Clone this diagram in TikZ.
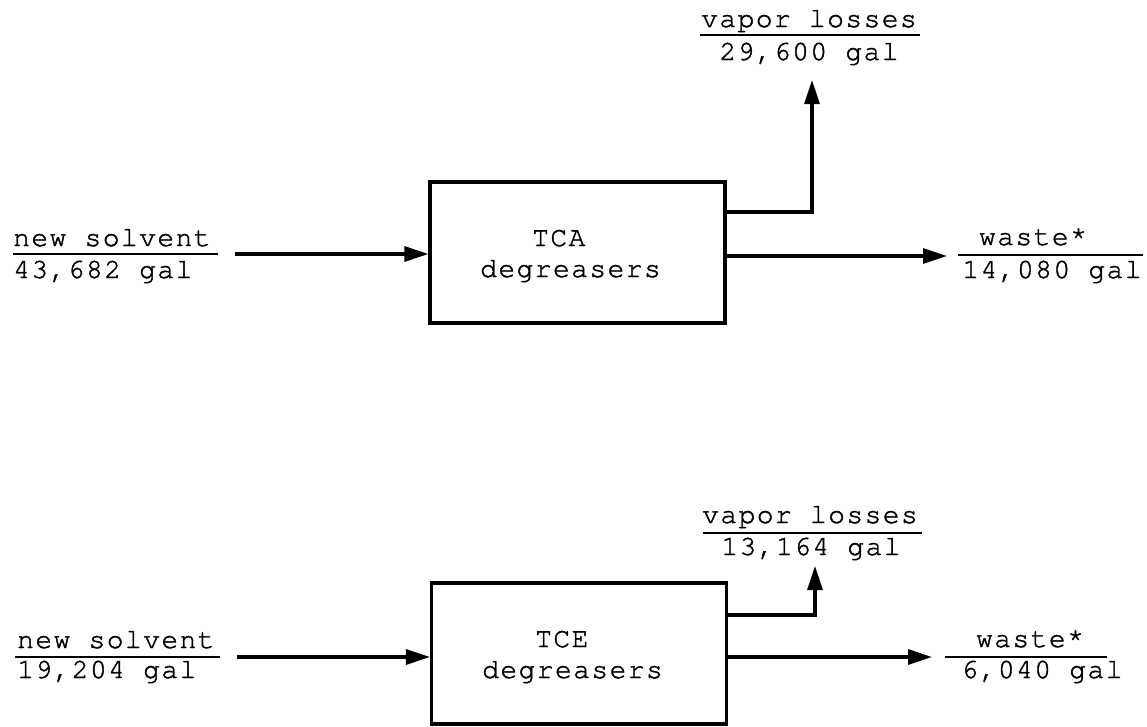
\documentclass[tikz,border=0pt]{standalone}
\usepackage{fontspec}
\usetikzlibrary{arrows.meta}
\newfontfamily\twfam{texgyrecursor-regular}[Extension=.otf, LetterSpace=5, FakeBold=1.5]
\newcommand\twfont{\fontsize{28}{30}\selectfont\twfam}
\tikzset{
  txt/.style={font=\twfont, inner sep=0pt, anchor=base west},
  ctxt/.style={font=\twfont, inner sep=0pt, anchor=base},
  unit/.style={draw, line width=3.2pt, minimum width=295pt, minimum height=141pt, inner sep=0pt},
  flow/.style={line width=3.2pt, -{Triangle[length=24pt,width=15pt]}},
  rule/.style={line width=2pt}
}
\begin{document}
\begin{tikzpicture}[x=1pt,y=-1pt]
\useasboundingbox (0,0) rectangle (1147,726);
% ---------- top (TCA) ----------
\node[unit] (box1) at (577.5,252.5) {};
\node[txt] (b1a) at (532,246) {TCA};
\node[txt] (b1b) at (480,277) {degreasers};
\node[txt] (ns1) at (13,246) {new solvent};
\node[txt] (nv1) at (13,278) {43,682 gal};
\draw[rule] (13,254) -- (218,254);
\node[ctxt] (vl1) at (809,27) {vapor losses};
\node[ctxt] (vv1) at (809,60) {29,600 gal};
\draw[rule] (700,35) -- (920,35);
\node[ctxt] (ws1) at (1033,245) {waste*};
\node[ctxt] (wv1) at (1052,278) {14,080 gal};
\draw[rule] (958,255) -- (1143,255);
\coordinate (in1) at (235,254);
\coordinate (out1) at (947,256);
\coordinate (vs1) at (725,212);
\coordinate (vt1) at (812,80);
\draw[flow] (in1) -- (in1 -| box1.west);
\draw[flow] (out1 -| box1.east) -- (out1);
\draw[flow] (vs1 -| box1.east) -| (vt1);
% ---------- bottom (TCE) ----------
\node[unit] (box2) at (579,653.5) {};
\node[txt] (b2a) at (535,647) {TCE};
\node[txt] (b2b) at (482,678) {degreasers};
\node[txt] (ns2) at (17,648) {new solvent};
\node[txt] (nv2) at (17,678) {19,204 gal};
\draw[rule] (15,657) -- (220,657);
\node[ctxt] (vl2) at (810,523) {vapor losses};
\node[ctxt] (vv2) at (811,555) {13,164 gal};
\draw[rule] (703,533) -- (922,533);
\node[ctxt] (ws2) at (1030,647) {waste*};
\node[ctxt] (wv2) at (1042,678) {6,040 gal};
\draw[rule] (945,657) -- (1107,657);
\coordinate (in2) at (237,657);
\coordinate (out2) at (932,657);
\coordinate (vs2) at (727,615);
\coordinate (vt2) at (815,566);
\draw[flow] (in2) -- (in2 -| box2.west);
\draw[flow] (out2 -| box2.east) -- (out2);
\draw[flow] (vs2 -| box2.east) -| (vt2);
\end{tikzpicture}
\end{document}
